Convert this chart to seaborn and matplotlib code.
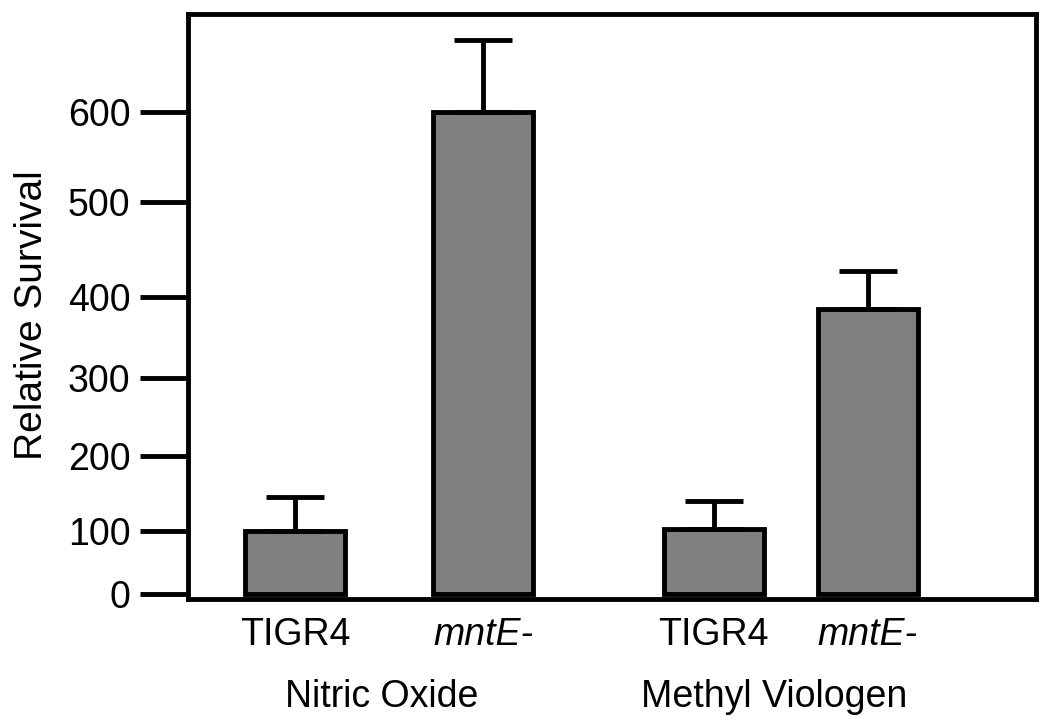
import numpy as np
import pandas as pd
import matplotlib.pyplot as plt
import matplotlib.transforms as mtransforms
import seaborn as sns

# values
strains = ["TIGR4", "mntE-", "TIGR4", "mntE-"]
treatments = ["Nitric Oxide", "Nitric Oxide", "Methyl Viologen", "Methyl Viologen"]
survival = [100, 600, 103, 385]
survival_err = [45, 80, 37, 42]
y_ticks = [0, 100, 200, 300, 400, 500, 600]

# layout (bars are not evenly spaced in the original)
bar_pos = [0, 1, 2.23, 3.05]
group_pos = {"Nitric Oxide": 0.46, "Methyl Viologen": 2.55}

# the original y axis is not evenly spaced: tick value -> height above axes bottom (px)
scale_vals = [-100, 0, 100, 200, 300, 400, 500, 600, 800]
scale_pix = [-58, 5, 68, 143, 221, 302, 397, 487, 667]


def fwd(v):
    return np.interp(v, scale_vals, scale_pix)


def inv(p):
    return np.interp(p, scale_pix, scale_vals)


df = pd.DataFrame({"pos": bar_pos, "Strain": strains,
                   "Treatment": treatments, "Survival": survival})

sns.set_style("white")
plt.rcParams["font.family"] = ["Liberation Sans", "DejaVu Sans"]
plt.rcParams["text.color"] = "black"
plt.rcParams["axes.labelcolor"] = "black"
plt.rcParams["xtick.color"] = "black"
plt.rcParams["ytick.color"] = "black"

fig = plt.figure(figsize=(10.5, 7.26), dpi=100)
ax = fig.add_axes([0.179, 0.175, 0.808, 0.806])

sns.barplot(data=df, x="pos", y="Survival", native_scale=True, width=0.65,
            color="#808080", saturation=1, edgecolor="black", linewidth=3.5,
            errorbar=None, ax=ax)

# one-sided (upper) error bars
ax.errorbar(df["pos"], df["Survival"], yerr=[[0] * 4, survival_err],
            fmt="none", ecolor="black", elinewidth=3.5, capsize=21,
            capthick=3.5, zorder=1)

ax.set_yscale("function", functions=(fwd, inv))
ax.set_xlim(-0.573, 3.949)
ax.set_ylim(-8, 709)
ax.set_yticks(y_ticks)
ax.set_yticklabels([str(t) for t in y_ticks])
ax.yaxis.set_minor_locator(plt.NullLocator())
ax.set_xticks(bar_pos)
ax.set_xticklabels(strains)
for lbl in ax.get_xticklabels():
    if lbl.get_text().startswith("mnt"):
        lbl.set_style("italic")

ax.tick_params(axis="y", direction="out", length=34.5, width=3.5, pad=7,
               labelsize=27, left=True)
ax.tick_params(axis="x", length=0, pad=13, labelsize=27)

for s in ax.spines.values():
    s.set_linewidth(3.5)
    s.set_color("black")

ax.set_xlabel(None)
ax.set_ylabel("Relative Survival", fontsize=28)
ax.yaxis.set_label_coords(-0.163, 0.485)

trans = mtransforms.blended_transform_factory(ax.transData, ax.transAxes)
for name, xp in group_pos.items():
    ax.text(xp, -0.168, name, transform=trans, ha="center", va="center",
            fontsize=27)

fig.savefig("out.png", dpi=100)
